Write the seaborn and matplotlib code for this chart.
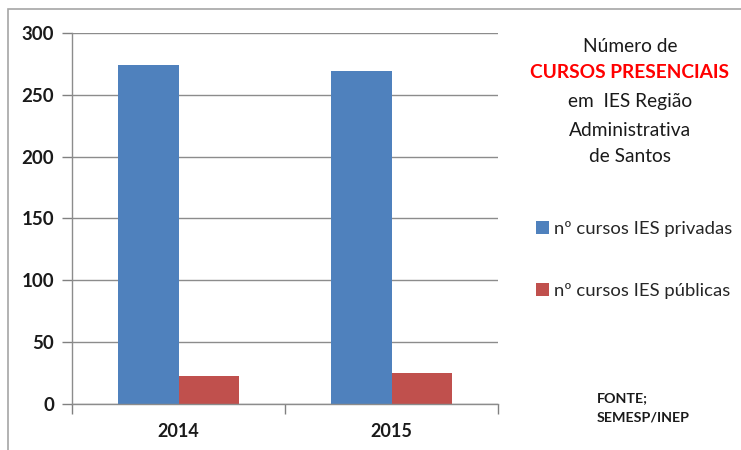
import matplotlib
matplotlib.use("Agg")
import matplotlib.pyplot as plt
import seaborn as sns
import pandas as pd
from matplotlib.patches import Rectangle

years = ["2014", "2015"]
series_names = ["nº cursos IES privadas", "nº cursos IES públicas"]
privadas = [274, 269]
publicas = [23, 25]
y_ticks = [0, 50, 100, 150, 200, 250, 300]

df = pd.DataFrame({
    "ano": years * 2,
    "serie": [series_names[0]] * 2 + [series_names[1]] * 2,
    "valor": privadas + publicas,
})

sns.set_theme(style="white")
plt.rcParams["font.family"] = ["Lato", "DejaVu Sans"]

fig = plt.figure(figsize=(7.41, 4.5), dpi=100)
ax = fig.add_axes([72 / 741, 1 - 404 / 450, (498 - 72) / 741, (404 - 33) / 450])

sns.barplot(data=df, x="ano", y="valor", hue="serie", order=years, hue_order=series_names,
            palette=["#4F81BD", "#C0504D"], width=0.57, saturation=1, ax=ax, legend=True,
            linewidth=0, edgecolor="none")

ax.set_ylim(0, 300)
ax.set_xlim(-0.5, 1.5)
ax.set_yticks(y_ticks)
ax.set_yticklabels([str(v) for v in y_ticks], fontsize=13.5, fontweight="bold", color="#1a1a1a")
ax.set_xticks([0, 1])
ax.set_xticklabels(years, fontsize=13, fontweight="bold", color="#1a1a1a")
ax.set_xticks([-0.5, 0.5, 1.5], minor=True)
ax.tick_params(axis="x", which="major", length=0, pad=14)
ax.tick_params(axis="x", which="minor", length=7, color="#808080", width=1, direction="out", bottom=True)
ax.tick_params(axis="y", length=7, color="#808080", width=1, direction="out", left=True, pad=6)
ax.set_xlabel("")
ax.set_ylabel("")
ax.yaxis.grid(True, color="#8c8c8c", linewidth=1)
ax.set_axisbelow(True)
for s in ["top", "right"]:
    ax.spines[s].set_visible(False)
for s in ["left", "bottom"]:
    ax.spines[s].set_color("#8c8c8c")
    ax.spines[s].set_linewidth(1)

handles, labels = ax.get_legend_handles_labels()
ax.get_legend().remove()
fig.legend(handles, labels, loc="upper left", bbox_to_anchor=(529 / 741, 1 - 214 / 450),
           frameon=False, fontsize=13.3, handlelength=0.7, handleheight=0.7,
           handletextpad=0.25, labelspacing=2.45, borderaxespad=0)

cx = 630 / 741
title_lines = [("Número de", "#1a1a1a", "normal", 46),
               ("CURSOS PRESENCIAIS", "#ff0000", "bold", 73),
               ("em  IES Região", "#1a1a1a", "normal", 102),
               ("Administrativa", "#1a1a1a", "normal", 130),
               ("de Santos", "#1a1a1a", "normal", 157)]
for txt, col, wt, ypx in title_lines:
    fig.text(cx, 1 - ypx / 450, txt, ha="center", va="center", fontsize=13.8,
             color=col, fontweight=wt)

fig.text(597 / 741, 1 - 398 / 450, "FONTE;", ha="left", va="center", fontsize=10.3,
         fontweight="bold", color="#1a1a1a")
fig.text(597 / 741, 1 - 418 / 450, "SEMESP/INEP", ha="left", va="center", fontsize=10.3,
         fontweight="bold", color="#1a1a1a")

fig.patches.append(Rectangle((8 / 741, -0.1), 1.2, 1 - 9 / 450 + 0.1, transform=fig.transFigure,
                             fill=False, edgecolor="#a6a6a6", linewidth=1.2, zorder=0))

fig.savefig("out.png", dpi=100)
